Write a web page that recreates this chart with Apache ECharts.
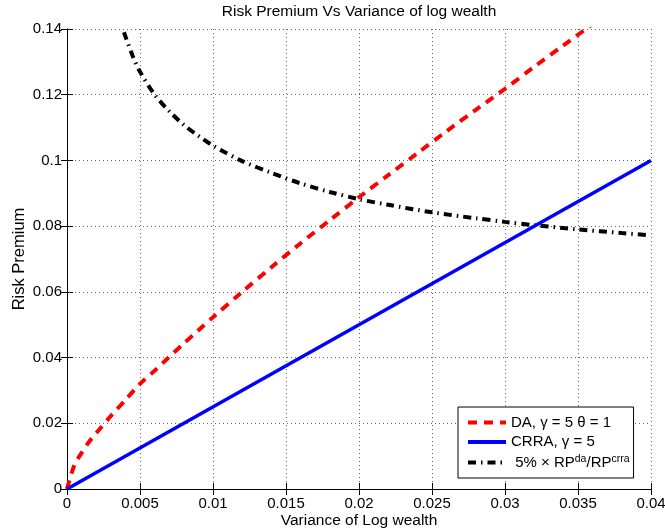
<!DOCTYPE html>
<html>
<head>
<meta charset="utf-8">
<script src="https://cdn.jsdelivr.net/npm/echarts@6/dist/echarts.min.js"></script>
<style>
  html, body { margin: 0; padding: 0; background: #fff; }
  #chart { width: 665px; height: 531px; }
</style>
</head>
<body>
<div id="chart"></div>
<script>
// Variance of log wealth vs risk premium
const daVariance = [0, 0.0005, 0.001, 0.0015, 0.002, 0.003, 0.004, 0.005, 0.006, 0.007, 0.008, 0.009, 0.010,
  0.012, 0.014, 0.016, 0.018, 0.020, 0.022, 0.024, 0.026, 0.028, 0.030, 0.032, 0.034, 0.036];
const daPremium = [0, 0.0072, 0.0110, 0.0143, 0.0170, 0.0222, 0.0271, 0.0320, 0.0360, 0.0402, 0.0443, 0.0483, 0.0523,
  0.0600, 0.0675, 0.0748, 0.0818, 0.0888, 0.0955, 0.1022, 0.1089, 0.1154, 0.1218, 0.1285, 0.1350, 0.1415];

const crraVariance = [0, 0.04];
const crraPremium = [0, 0.1];

const ratioVariance = [0.0039, 0.0045, 0.005, 0.006, 0.007, 0.008, 0.009, 0.010, 0.012, 0.014, 0.016, 0.018,
  0.020, 0.022, 0.025, 0.028, 0.030, 0.032, 0.035, 0.038, 0.040];
const ratioPremium = [0.1390, 0.1318, 0.1270, 0.1200, 0.1150, 0.1108, 0.1075, 0.1045, 0.0998, 0.0962, 0.0930, 0.0904,
  0.0882, 0.0865, 0.0842, 0.0824, 0.0813, 0.0803, 0.0790, 0.0779, 0.0772];

const seriesNames = ['DA, γ = 5 θ = 1', 'CRRA, γ = 5', ' 5% × RP^da/RP^crra'];

const pairs = (xs, ys) => xs.map((x, i) => [x, ys[i]]);

const FONT = 'Liberation Sans, Arial, Helvetica, sans-serif';

const xRange = { min: 0, max: 0.04, interval: 0.005 };
const yRange = { min: 0, max: 0.14, interval: 0.02 };

const chart = echarts.init(document.getElementById('chart'), null, { renderer: 'canvas' });

const baseAxis = {
  axisLine: { show: true, lineStyle: { color: '#000', width: 1 } },
  axisTick: { show: true, inside: true, length: 6, lineStyle: { color: '#000' } }
};
const gridDots = { show: true, lineStyle: { color: '#666', width: 1, type: [1, 3] } };

chart.setOption({
  animation: false,
  backgroundColor: '#fff',
  title: {
    text: 'Risk Premium Vs Variance of log wealth',
    left: 359, top: 3.5, textAlign: 'center', padding: 0,
    textStyle: { fontFamily: FONT, fontSize: 15.5, fontWeight: 'normal', color: '#000' }
  },
  grid: { left: 67, right: 14, top: 29, bottom: 42, containLabel: false, outerBoundsMode: 'none' },
  xAxis: [
    Object.assign({}, baseAxis, xRange, {
      type: 'value', position: 'bottom',
      name: 'Variance of Log wealth', nameLocation: 'middle', nameGap: 24, nameMoveOverlap: false,
      nameTextStyle: { fontFamily: FONT, fontSize: 15.5, color: '#000' },
      axisLabel: { fontFamily: FONT, fontSize: 15, color: '#000', margin: 7 },
      splitLine: gridDots
    }),
    Object.assign({}, baseAxis, xRange, {
      type: 'value', position: 'top',
      axisLabel: { show: false }, splitLine: { show: false }
    })
  ],
  yAxis: [
    Object.assign({}, baseAxis, yRange, {
      type: 'value', position: 'left',
      name: 'Risk Premium', nameLocation: 'middle', nameGap: 39, nameMoveOverlap: false,
      nameTextStyle: { fontFamily: FONT, fontSize: 16.5, color: '#000' },
      axisLabel: { fontFamily: FONT, fontSize: 15, color: '#000', margin: 5 },
      splitLine: gridDots
    }),
    Object.assign({}, baseAxis, yRange, {
      type: 'value', position: 'right',
      axisLabel: { show: false }, splitLine: { show: false }
    })
  ],
  legend: {
    orient: 'vertical',
    left: 458, top: 407,
    padding: [8, 4, 8, 8],
    itemGap: 4.5, itemWidth: 38, itemHeight: 14,
    backgroundColor: '#fff', borderColor: '#000', borderWidth: 1, borderRadius: 0,
    data: seriesNames,
    itemStyle: { opacity: 0 },
    lineStyle: { width: 4 },
    formatter: function (name) {
      if (name === seriesNames[2]) {
        return '{t| 5% × RP}{s|da}{t|/RP}{s|crra}';
      }
      return '{t|' + name + '}';
    },
    textStyle: {
      fontFamily: FONT, fontSize: 15, color: '#000', width: 124,
      rich: {
        t: { fontFamily: FONT, fontSize: 15, color: '#000', lineHeight: 17 },
        s: { fontFamily: FONT, fontSize: 10.5, color: '#000', verticalAlign: 'top', lineHeight: 10 }
      }
    }
  },
  series: [
    {
      name: seriesNames[0], type: 'line', showSymbol: false, symbol: 'none', smooth: 0.3,
      data: pairs(daVariance, daPremium), clip: true, z: 3,
      lineStyle: { color: '#ff0000', width: 4, type: [9, 7], cap: 'butt' },
      itemStyle: { color: '#ff0000' }
    },
    {
      name: seriesNames[1], type: 'line', showSymbol: false, symbol: 'none',
      data: pairs(crraVariance, crraPremium), clip: true, z: 4,
      lineStyle: { color: '#0000ff', width: 3.5, type: 'solid' },
      itemStyle: { color: '#0000ff' }
    },
    {
      name: seriesNames[2], type: 'line', showSymbol: false, symbol: 'none', smooth: 0.3,
      data: pairs(ratioVariance, ratioPremium), clip: true, z: 3,
      lineStyle: { color: '#000', width: 4, type: [8, 5, 1.5, 5], cap: 'butt' },
      itemStyle: { color: '#000' }
    }
  ]
});
</script>
</body>
</html>
